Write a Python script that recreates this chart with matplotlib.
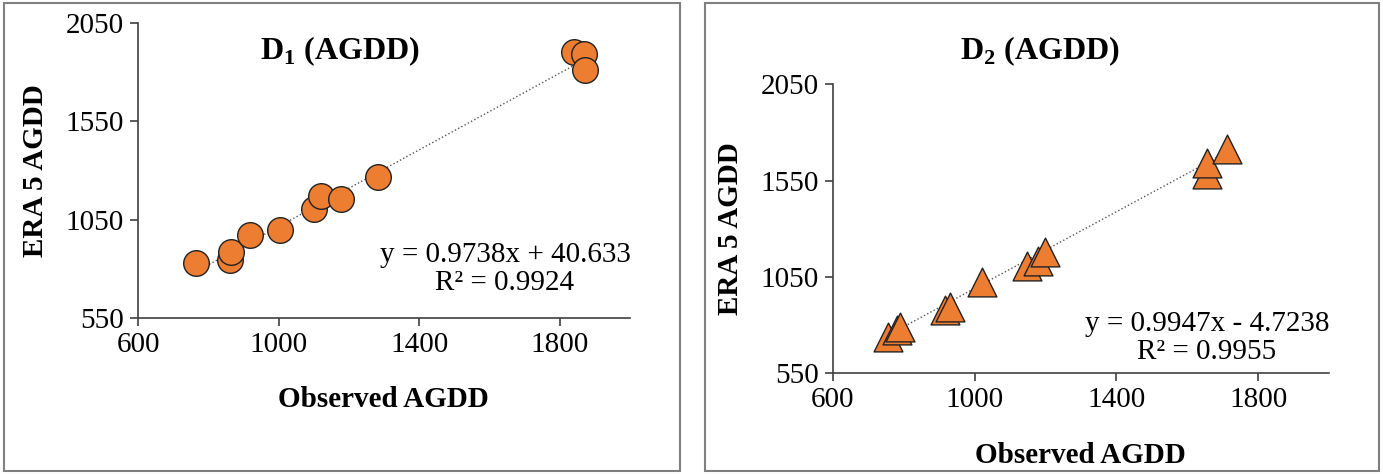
# Observed vs ERA5 AGDD scatter, two panels (D1 circles, D2 triangles)

import numpy as np
import matplotlib.pyplot as plt
from matplotlib.patches import Rectangle

plt.rcParams['font.family'] = ['Liberation Serif', 'DejaVu Serif']
plt.rcParams['mathtext.fontset'] = 'custom'
plt.rcParams['mathtext.rm'] = 'Liberation Serif'
plt.rcParams['mathtext.bf'] = 'Liberation Serif:bold'

# D1 data
obs_d1 = [766, 861, 866, 918, 1005, 1102, 1121, 1178, 1282, 1840, 1869, 1871]
era_d1 = [827, 844, 886, 971, 996, 1106, 1169, 1152, 1266, 1900, 1892, 1811]
fit_d1 = (0.9738, 40.633)
eq_d1 = "y = 0.9738x + 40.633\nR² = 0.9924"

# D2 data
obs_d2 = [756, 780, 789, 916, 930, 1020, 1147, 1180, 1198, 1655, 1655, 1711]
era_d2 = [736, 771, 788, 875, 892, 1021, 1108, 1134, 1177, 1583, 1643, 1712]
fit_d2 = (0.9947, -4.7238)
eq_d2 = "y = 0.9947x - 4.7238\nR² = 0.9955"

xticks = [600, 1000, 1400, 1800]
yticks = [550, 1050, 1550, 2050]

orange = '#ED7D31'
axcol = '#404040'

W, H = 1383, 474
fig = plt.figure(figsize=(W/100, H/100), dpi=100, facecolor='white')

# panel frames
for x0, x1 in [(4, 680), (705, 1379)]:
  fig.patches.append(Rectangle((x0/W, 3/H), (x1-x0)/W, 468/H, transform=fig.transFigure,
                               fill=False, edgecolor='#7f7f7f', linewidth=1.5))

def panel(rect, obs, era, fit, eq, marker, size, title, title_pos, eq_pos, xl_y, yl_x):
  ax = fig.add_axes(rect)
  ax.scatter(obs, era, s=size, marker=marker, facecolor=orange, edgecolor='#222222',
             linewidth=1.0, zorder=3)
  xs = np.array([min(obs), max(obs)])
  ax.plot(xs, fit[0]*xs + fit[1], linestyle=':', color='#555555', linewidth=1.0, zorder=2)
  ax.set_xlim(600, 2000); ax.set_ylim(550, 2050)
  ax.set_xticks(xticks); ax.set_yticks(yticks)
  for s in ['top', 'right']:
    ax.spines[s].set_visible(False)
  for s in ['left', 'bottom']:
    ax.spines[s].set_color(axcol); ax.spines[s].set_linewidth(1.2)
  ax.tick_params(direction='out', length=6, width=1.2, color=axcol, labelsize=21, pad=4)
  ax.set_xlabel('Observed AGDD', fontsize=21, fontweight='bold')
  ax.set_ylabel('ERA 5 AGDD', fontsize=21, fontweight='bold')
  ax.xaxis.set_label_coords(0.498, xl_y)
  ax.yaxis.set_label_coords(yl_x, 0.5)
  ax.text(title_pos[0], title_pos[1], title, transform=ax.transAxes, ha='center', va='center',
          fontsize=23, fontweight='bold')
  ax.text(eq_pos[0], eq_pos[1], eq, transform=ax.transAxes, ha='center', va='center',
          multialignment='center', fontsize=21, linespacing=1.12)
  return ax

panel([138/W, 1-318/H, 492/W, 295.3/H], obs_d1, era_d1, fit_d1, eq_d1, 'o', 340,
      r'D$_\mathbf{1}$ (AGDD)', (0.41, 0.905), (0.746, 0.165), -0.23, -0.18)
panel([833/W, 1-373/H, 496/W, 288.7/H], obs_d2, era_d2, fit_d2, eq_d2, '^', 430,
      r'D$_\mathbf{2}$ (AGDD)', (0.417, 1.115), (0.754, 0.122), -0.24, -0.18)

fig.savefig('out.png', dpi=100, facecolor='white')
